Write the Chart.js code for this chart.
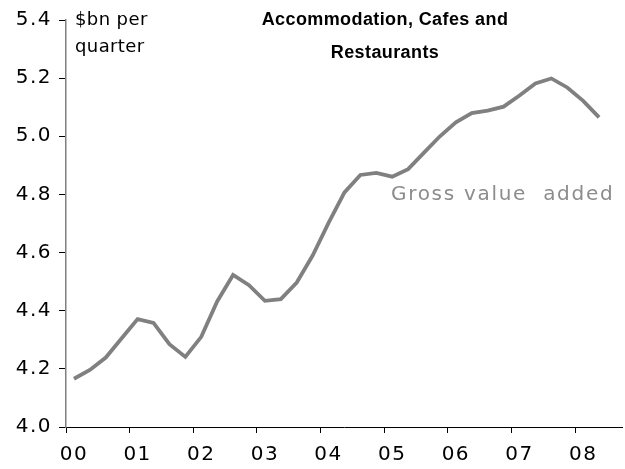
<!DOCTYPE html>
<html>
<head>
<meta charset="utf-8">
<script src="https://cdn.jsdelivr.net/npm/chart.js@4/dist/chart.umd.min.js"></script>
<style>
html,body{margin:0;padding:0;background:#fff;}
#wrap{width:625px;height:469px;position:relative;}
</style>
</head>
<body>
<div id="wrap"><canvas id="c" width="625" height="469"></canvas></div>
<script>
// Year tick labels (one per year, first quarter)
const years = ['00','01','02','03','04','05','06','07','08'];
// Quarterly categories 2000Q1 .. 2008Q3 (last slot empty on the axis)
const quarters = [];
for (let y = 0; y < years.length; y++) {
  for (let q = 1; q <= 4; q++) {
    if (quarters.length < 35) quarters.push(years[y] + 'Q' + q);
  }
}
// Gross value added, $bn per quarter (2000Q1 .. 2008Q2)
const gva = [4.166, 4.196, 4.239, 4.305, 4.371, 4.358, 4.285, 4.241,
             4.310, 4.432, 4.523, 4.488, 4.434, 4.440, 4.497, 4.590,
             4.702, 4.807, 4.867, 4.874, 4.861, 4.887, 4.944, 5.000,
             5.048, 5.080, 5.088, 5.102, 5.140, 5.182, 5.199, 5.168,
             5.122, 5.065];
const yTicks = [4.0, 4.2, 4.4, 4.6, 4.8, 5.0, 5.2, 5.4];

const FONT = '"DejaVu Sans", Verdana, sans-serif';
const LS = '1.5px';

const spacingPlugin = {
  id: 'spacing',
  beforeDraw(chart) { chart.ctx.letterSpacing = LS; }
};

const textPlugin = {
  id: 'texts',
  afterDraw(chart) {
    const ctx = chart.ctx;
    ctx.save();
    ctx.textBaseline = 'middle';
    // unit label
    ctx.letterSpacing = '0.4px';
    ctx.fillStyle = '#000';
    ctx.font = '18px ' + FONT;
    ctx.textAlign = 'left';
    ctx.fillText('$bn per', 75, 20);
    ctx.fillText('quarter', 75, 47);
    // series label
    ctx.letterSpacing = '1.7px';
    ctx.font = '20px ' + FONT;
    ctx.fillStyle = '#8c8c8c';
    ctx.fillText('Gross value  added', 391, 195);
    // title
    ctx.letterSpacing = '0.4px';
    ctx.fillStyle = '#000';
    ctx.font = 'bold 18px "Liberation Sans", Arial, sans-serif';
    ctx.textAlign = 'center';
    ctx.fillText('Accommodation, Cafes and', 385, 20);
    ctx.fillText('Restaurants', 385, 53);
    ctx.restore();
  }
};

new Chart(document.getElementById('c'), {
  type: 'line',
  data: {
    labels: quarters,
    datasets: [{
      label: 'Gross value added',
      data: gva,
      borderColor: '#808080',
      borderWidth: 3.8,
      pointRadius: 0,
      tension: 0,
      fill: false
    }]
  },
  options: {
    responsive: false,
    animation: false,
    devicePixelRatio: 1,
    layout: { padding: { top: 20, right: 1, left: 0, bottom: 0 } },
    plugins: { legend: { display: false }, tooltip: { enabled: false }, title: { display: false } },
    scales: {
      x: {
        type: 'category',
        offset: true,
        grid: {
          offset: true,
          drawOnChartArea: false,
          drawTicks: true,
          tickLength: 6,
          color: (c) => (c.index % 4 === 0 ? '#000' : 'rgba(0,0,0,0)'),
          lineWidth: 1
        },
        border: { display: true, color: '#000', width: 1 },
        ticks: {
          autoSkip: false,
          maxRotation: 0,
          minRotation: 0,
          color: '#000',
          font: { family: FONT, size: 20 },
          padding: 10,
          callback: (v, i) => (i % 4 === 0 ? years[i / 4] : '')
        },
        afterFit: (s) => { s.height = 42; }
      },
      y: {
        min: 4.0,
        max: 5.4,
        afterBuildTicks: (s) => { s.ticks = yTicks.map(v => ({ value: v })); },
        grid: {
          drawOnChartArea: false,
          drawTicks: true,
          tickLength: 7,
          color: '#000',
          lineWidth: 1
        },
        border: { display: true, color: '#808080', width: 1.5 },
        ticks: {
          color: '#000',
          font: { family: FONT, size: 20 },
          padding: 7,
          callback: (v) => Number(v).toFixed(1)
        },
        afterFit: (s) => { s.width = 66; }
      }
    }
  },
  plugins: [spacingPlugin, textPlugin]
});
</script>
</body>
</html>
